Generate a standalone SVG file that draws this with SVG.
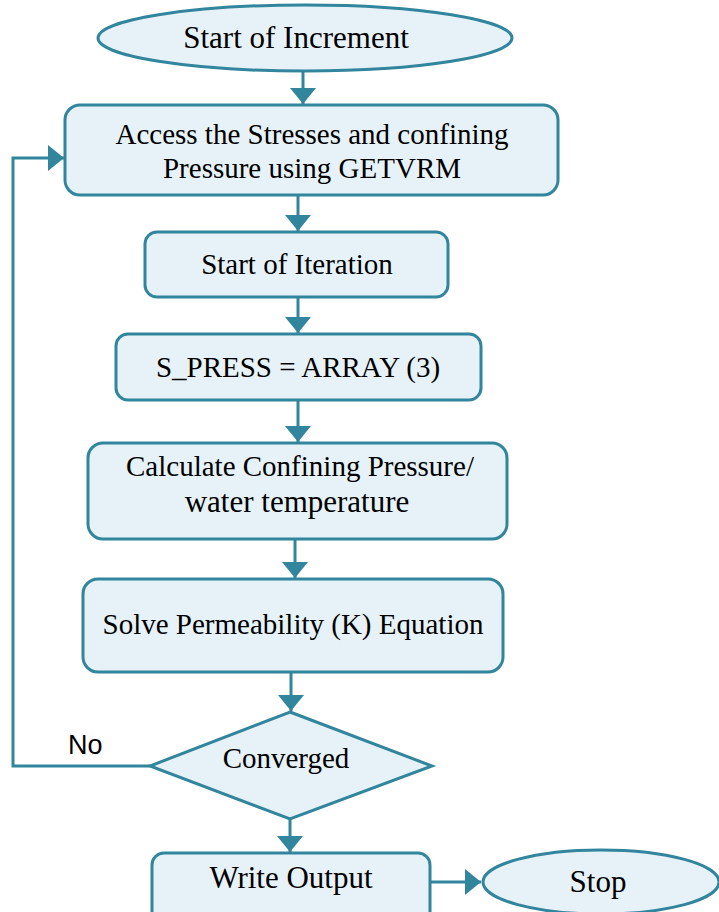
<svg xmlns="http://www.w3.org/2000/svg" width="719" height="912" viewBox="0 0 719 912">
  <defs>
    <style>
      .shape { fill: #e6f2f8; stroke: #31859c; stroke-width: 3; }
      .link { fill: none; stroke: #31859c; stroke-width: 3; }
      .lbl { font-family: "Liberation Serif", "Times New Roman", serif; font-size: 29px; fill: #000; text-anchor: middle; }
      .big { font-size: 31px; }
      .note { font-family: "Liberation Sans", Arial, sans-serif; font-size: 27px; fill: #000; }
    </style>
    <marker id="head" markerUnits="userSpaceOnUse" markerWidth="18" markerHeight="28" refX="16" refY="13" orient="auto">
      <path d="M0,0 L16,13 L0,26 Z" fill="#31859c"/>
    </marker>
  </defs>

  <g id="connectors">
    <line class="link" x1="303" y1="72" x2="303" y2="104" marker-end="url(#head)"/>
    <line class="link" x1="298" y1="196" x2="298" y2="231" marker-end="url(#head)"/>
    <line class="link" x1="298" y1="298" x2="298" y2="333" marker-end="url(#head)"/>
    <line class="link" x1="298" y1="401" x2="298" y2="442" marker-end="url(#head)"/>
    <line class="link" x1="295" y1="540" x2="295" y2="578" marker-end="url(#head)"/>
    <line class="link" x1="291" y1="673" x2="291" y2="711" marker-end="url(#head)"/>
    <polyline class="link" points="150,766 13,766 13,158 64,158" marker-end="url(#head)"/>
    <line class="link" x1="290" y1="819" x2="290" y2="852" marker-end="url(#head)"/>
    <line class="link" x1="431" y1="882" x2="481" y2="882" marker-end="url(#head)"/>
    <text class="note" x="68" y="754">No</text>
  </g>

  <g id="start-increment">
    <ellipse class="shape" cx="305" cy="38" rx="207" ry="33"/>
    <text class="lbl big" x="296" y="48">Start of Increment</text>
  </g>

  <g id="access-stresses">
    <rect class="shape" x="65" y="105" width="493" height="90" rx="15"/>
    <text class="lbl" x="312" y="144">Access the Stresses and confining</text>
    <text class="lbl" x="312" y="178">Pressure using GETVRM</text>
  </g>

  <g id="start-iteration">
    <rect class="shape" x="145" y="232" width="303" height="65" rx="12"/>
    <text class="lbl" x="297" y="274">Start of Iteration</text>
  </g>

  <g id="s-press">
    <rect class="shape" x="116" y="334" width="365" height="66" rx="12"/>
    <text class="lbl" x="298" y="377">S_PRESS = ARRAY (3)</text>
  </g>

  <g id="confining-pressure">
    <rect class="shape" x="88" y="443" width="419" height="96" rx="15"/>
    <text class="lbl" x="300" y="476">Calculate Confining Pressure/</text>
    <text class="lbl big" x="297" y="512">water temperature</text>
  </g>

  <g id="permeability">
    <rect class="shape" x="83" y="579" width="420" height="93" rx="15"/>
    <text class="lbl" x="293" y="634">Solve Permeability (K) Equation</text>
  </g>

  <g id="converged">
    <polygon class="shape" points="290,712 432,766 290,819 150,766"/>
    <text class="lbl" x="286" y="768">Converged</text>
  </g>

  <g id="write-output">
    <rect class="shape" x="152" y="853" width="278" height="72" rx="12"/>
    <text class="lbl big" x="291" y="888">Write Output</text>
  </g>

  <g id="stop">
    <ellipse class="shape" cx="601" cy="882" rx="118" ry="32"/>
    <text class="lbl big" x="598" y="892">Stop</text>
  </g>
</svg>
